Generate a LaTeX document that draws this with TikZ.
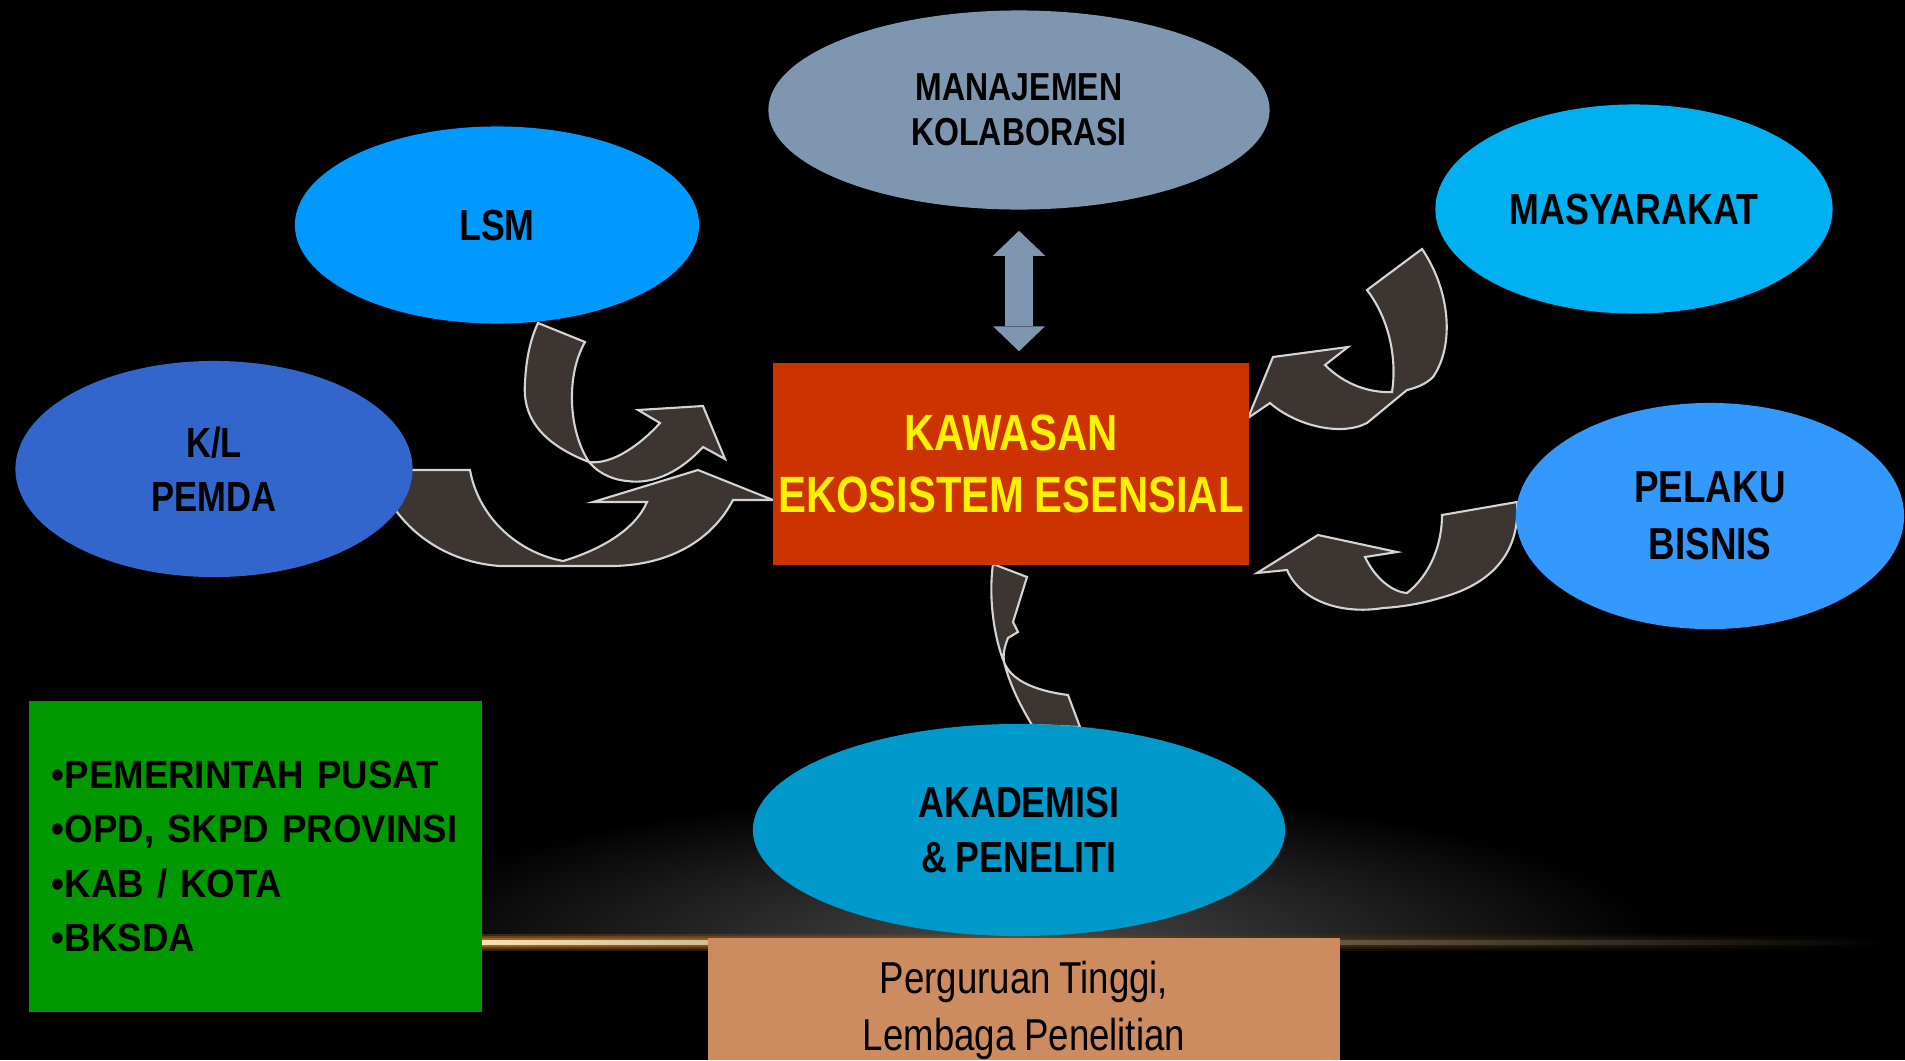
\documentclass[tikz,border=0pt]{standalone}
\usepackage{fontspec}
\usepackage{tikz}
\usetikzlibrary{shapes.geometric,arrows.meta}

\newfontfamily\narrowsans[FakeStretch=0.82,WordSpace=0.85]{Liberation Sans}
\newfontfamily\listsans[FakeStretch=0.93,WordSpace=0.8]{Liberation Sans}

\definecolor{kolabgray}{RGB}{127,150,176}
\definecolor{lsmblue}{RGB}{0,153,255}
\definecolor{masycyan}{RGB}{0,176,240}
\definecolor{pemdablue}{RGB}{51,102,204}
\definecolor{bisnisblue}{RGB}{51,153,255}
\definecolor{akadblue}{RGB}{0,153,204}
\definecolor{kawasanred}{RGB}{204,51,0}
\definecolor{pusatgreen}{RGB}{0,153,0}
\definecolor{tinggitan}{RGB}{204,140,96}
\definecolor{ribbonfill}{RGB}{60,53,49}
\definecolor{ribbonedge}{RGB}{212,212,212}
\definecolor{glowcore}{RGB}{250,225,180}
\definecolor{glowhalo}{RGB}{190,125,50}
\definecolor{haze}{RGB}{72,72,72}

\begin{document}
\begin{tikzpicture}[
    x=0.01cm,
    y=-0.01cm
]

\tikzstyle{party}=[
    ellipse,
    inner sep=0pt,
    align=center,
    text=black,
    font=\narrowsans\bfseries\fontsize{12.4pt}{15.4pt}\selectfont
]
\tikzstyle{hub}=[
    rectangle,
    fill=kawasanred,
    minimum width=4.76cm,
    minimum height=2.02cm,
    inner sep=0pt,
    align=center,
    text=yellow,
    font=\narrowsans\bfseries\fontsize{14.5pt}{17.4pt}\selectfont
]
\tikzstyle{listbox}=[
    rectangle,
    fill=pusatgreen,
    minimum width=4.53cm,
    minimum height=3.11cm,
    text width=4.07cm,
    inner xsep=0.23cm,
    inner ysep=0pt,
    align=left,
    text=black,
    font=\listsans\bfseries\fontsize{11.2pt}{15.5pt}\selectfont
]
\tikzstyle{ribbon}=[
    fill=ribbonfill,
    draw=ribbonedge,
    line width=0.6pt
]
\tikzstyle{twoway}=[
    draw=kolabgray,
    line width=7.7pt,
    arrows={Triangle[width=14.8pt,length=7.1pt,line width=0pt]-Triangle[width=14.8pt,length=7.1pt,line width=0pt]},
    shorten <=0.205cm,
    shorten >=0.11cm
]

\useasboundingbox (0,0) rectangle (1905,1060);
\fill[black] (0,0) rectangle (1905,1060);

\begin{scope}
\clip (0,0) rectangle (1905,941);
\shade[inner color=haze, outer color=black] (1019,941) ellipse (640 and 150);
\end{scope}
\foreach \h/\o in {8/0.25,6/0.35,4/0.6}
    \shade[left color=glowhalo, middle color=glowhalo, right color=black, opacity=\o] (480,{942-\h}) rectangle (1890,{942+\h});
\shade[left color=glowcore, middle color=glowcore, right color=black] (480,940) rectangle (1890,944);

\draw[ribbon] (538,323) -- (585,342)
    .. controls (566,375) and (568,430) .. (589,462)
    .. controls (600,475) and (615,480) .. (627,481)
    .. controls (655,485) and (682,470) .. (703,447)
    -- (725,459) -- (703,406) -- (638,410) -- (660,423)
    .. controls (640,445) and (612,465) .. (589,462)
    .. controls (545,445) and (522,420) .. (525,383)
    .. controls (526,360) and (530,340) .. (538,323) -- cycle;

\draw[ribbon] (400,470) -- (470,470)
    .. controls (478,515) and (515,552) .. (563,561)
    .. controls (600,550) and (635,530) .. (647,502)
    -- (593,502) -- (698,470) -- (773,500) -- (733,500)
    .. controls (712,540) and (670,565) .. (613,566)
    -- (500,566)
    .. controls (455,563) and (415,540) .. (392,505) -- cycle;

\draw[ribbon] (1367,290) -- (1422,249)
    .. controls (1450,290) and (1455,345) .. (1433,377)
    .. controls (1425,385) and (1415,388) .. (1407,390)
    -- (1367,423)
    .. controls (1340,437) and (1295,425) .. (1270,403)
    -- (1248,418) -- (1273,357) -- (1348,347) -- (1325,365)
    .. controls (1345,385) and (1370,393) .. (1392,392)
    .. controls (1397,360) and (1390,320) .. (1367,290) -- cycle;

\draw[ribbon] (1442,515) -- (1517,502)
    .. controls (1520,545) and (1500,582) .. (1440,598)
    .. controls (1420,604) and (1400,607) .. (1383,608)
    .. controls (1340,615) and (1300,600) .. (1287,570)
    -- (1257,573) -- (1318,535) -- (1397,552) -- (1365,557)
    .. controls (1375,578) and (1392,592) .. (1407,593)
    .. controls (1430,575) and (1442,545) .. (1442,515) -- cycle;

\draw[ribbon] (993,564) -- (1027,577) -- (1013,622) -- (1018,632) -- (1008,638)
    .. controls (1004,648) and (1003,655) .. (1004,662)
    .. controls (1010,678) and (1030,690) .. (1068,695)
    -- (1080,727) -- (1032,725)
    .. controls (1020,705) and (1010,685) .. (1004,662)
    .. controls (995,640) and (988,600) .. (993,564) -- cycle;

\node[party, fill=kolabgray, minimum width=5.01cm, minimum height=1.99cm,
    font=\narrowsans\bfseries\fontsize{11.1pt}{12.8pt}\selectfont] (manajemen) at (1019,110) {MANAJEMEN\\KOLABORASI};
\node[party, fill=lsmblue, minimum width=4.04cm, minimum height=1.97cm] (lsm) at (497,225) {LSM};
\node[party, fill=masycyan, minimum width=3.97cm, minimum height=2.09cm] (masyarakat) at (1634,209) {MASYARAKAT};
\node[party, fill=pemdablue, minimum width=3.97cm, minimum height=2.16cm,
    font=\narrowsans\bfseries\fontsize{12pt}{15.4pt}\selectfont] (pemda) at (214,469) {K/L\\PEMDA};
\node[party, fill=bisnisblue, minimum width=3.88cm, minimum height=2.26cm,
    font=\narrowsans\bfseries\fontsize{12.75pt}{16.2pt}\selectfont] (bisnis) at (1710,516) {PELAKU\\BISNIS};
\node[party, fill=akadblue, minimum width=5.32cm, minimum height=2.12cm] (akademisi) at (1019,830) {AKADEMISI\\\& PENELITI};

\node[hub] (kawasan) at (1011,464) {KAWASAN\\EKOSISTEM ESENSIAL};

\draw[twoway] (manajemen.south) -- (manajemen.south |- kawasan.north);

\node[listbox] (pusat) at (255.5,856.5) {•PEMERINTAH PUSAT\\•OPD, SKPD PROVINSI\\•KAB / KOTA\\•BKSDA};

\node[fill=tinggitan, minimum width=6.32cm, minimum height=1.22cm, inner sep=0pt] (lembaga) at (1024,999) {};
\node[align=center, text=black, font=\narrowsans\fontsize{12.7pt}{16.2pt}\selectfont]
    at ([yshift=-0.11cm]lembaga.center) {Perguruan Tinggi,\\Lembaga Penelitian};

\end{tikzpicture}
\end{document}
